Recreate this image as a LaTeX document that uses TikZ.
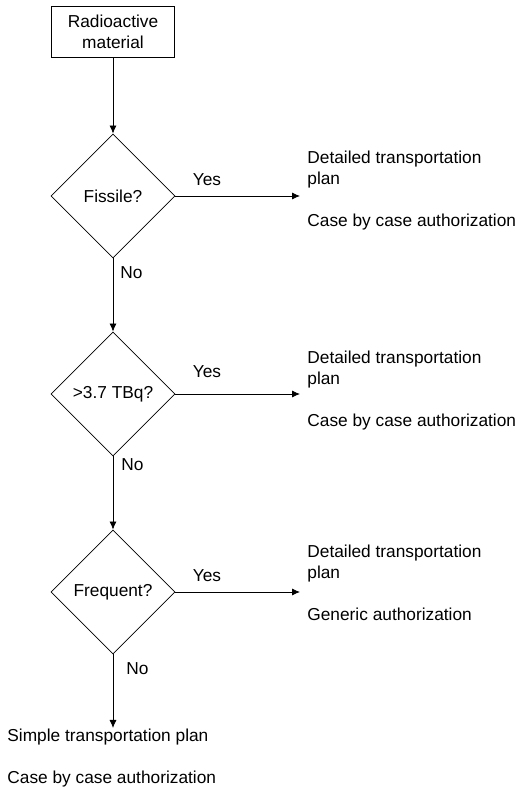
\documentclass[tikz,border=0pt]{standalone}
\usepackage{fontspec}
\setmainfont{Liberation Sans}
\usetikzlibrary{shapes,arrows.meta}

\begin{document}
\begin{tikzpicture}[x=0.5pt, y=0.5pt, >={Latex[length=4pt,width=3.5pt]}, %Pfeilspitzen
				font=\fontsize{8.65pt}{10.5pt}\selectfont,
				kasten/.style={draw, rectangle, minimum width=61.5pt, minimum height=25.5pt, inner sep=0pt, align=center},
				frage/.style={draw, diamond, aspect=1, minimum width=62pt, minimum height=62pt, inner sep=0pt},
				ergebnis/.style={anchor=west, inner sep=0pt, align=left},
				pfeil/.style={->, line width=0.4pt}]
				\useasboundingbox (0,0) rectangle (518,791);
				% Kasten und Entscheidungen
				\node[kasten] (mat) at (113,759) {Radioactive\\material};
				\node[frage] (fis) at (113,595) {Fissile?};
				\node[frage] (tbq) at (113,397) {>3.7 TBq?};
				\node[frage] (frq) at (113,199) {Frequent?};
				% Endpunkte der Pfeile
				\coordinate (e1) at (300,595);
				\coordinate (e2) at (300,397);
				\coordinate (e3) at (300,199);
				\coordinate (e4) at (113,63);
				% Ergebnisse
				\node[ergebnis] (r1) at (307,600) {Detailed transportation\\plan\\[10.5pt]Case by case authorization};
				\node[ergebnis] (r2) at (307,400) {Detailed transportation\\plan\\[10.5pt]Case by case authorization};
				\node[ergebnis] (r3) at (307,208) {Detailed transportation\\plan\\[10.5pt]Generic authorization};
				\node[ergebnis] (r4) at (7,33) {Simple transportation plan\\[10.5pt]Case by case authorization};
				% Pfeile
				\draw[pfeil] (mat) -- (fis);
				\draw[pfeil] (fis) -- (e1);
				\draw[pfeil] (fis) -- (tbq);
				\draw[pfeil] (tbq) -- (e2);
				\draw[pfeil] (tbq) -- (frq);
				\draw[pfeil] (frq) -- (e3);
				\draw[pfeil] (frq) -- (e4);
				% Ja / Nein
				\node (y1) at (207,611) {Yes};
				\node (y2) at (207,419) {Yes};
				\node (y3) at (207,215) {Yes};
				\node[anchor=west, inner sep=0pt] (n1) at (120,518) {No};
				\node[anchor=west, inner sep=0pt] (n2) at (121,326) {No};
				\node[anchor=west, inner sep=0pt] (n3) at (126,122) {No};
			\end{tikzpicture}
\end{document}
